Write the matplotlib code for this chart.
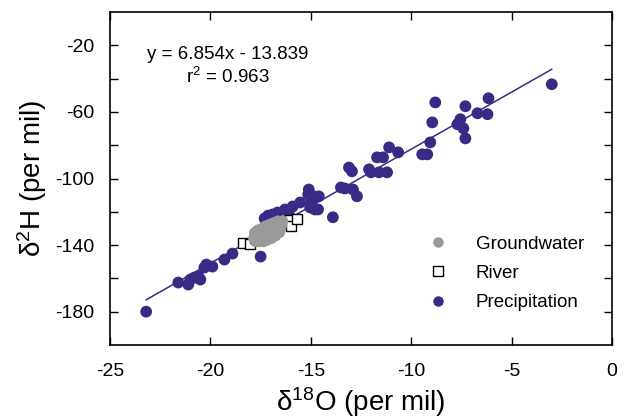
import matplotlib as mpl
mpl.use("Agg")
import matplotlib.pyplot as plt
from matplotlib.lines import Line2D
import numpy as np

# ---- data ------------------------------------------------------------------
precip_x = [-23.2, -21.6, -21.1, -21.0, -20.8, -20.5, -20.6, -20.2, -20.3, -19.9,
            -19.3, -18.9, -17.5, -17.3, -17.13, -16.9, -16.65, -16.28, -16.1, -15.9,
            -15.53, -15.13, -14.79, -15.03, -14.64, -15.1, -15.0, -14.8, -14.6, -14.85,
            -13.9, -13.5, -13.3, -12.9, -13.1, -12.95, -12.7, -12.1, -12.0, -11.6,
            -11.2, -11.7, -11.4, -11.1, -10.65, -9.45, -9.2, -9.05, -8.95, -8.8,
            -7.3, -6.15, -6.7, -6.2, -7.7, -7.55, -7.4, -7.3, -3.0]
precip_y = [-180.0, -162.5, -163.7, -160.7, -159.5, -160.7, -158.9, -151.7, -153.5, -152.9,
            -148.7, -145.1, -146.9, -124.0, -122.3, -121.6, -120.4, -118.6, -120.4, -116.8,
            -114.4, -109.6, -111.4, -117.4, -118.6, -106.6, -114.4, -118.6, -110.7, -110.7,
            -123.3, -105.4, -106.0, -106.6, -93.4, -95.7, -110.7, -94.5, -96.3, -96.3,
            -96.3, -87.3, -87.3, -81.3, -84.3, -85.5, -85.5, -78.3, -66.3, -54.3,
            -56.6, -51.8, -60.8, -61.4, -67.4, -64.4, -69.9, -75.9, -43.4]

river_x = [-18.4, -18.05, -17.8, -16.6, -16.43, -16.03, -15.98, -15.68]
river_y = [-138.5, -139.5, -136.0, -128.3, -125.9, -125.2, -128.3, -124.6]

ground_x = [-17.85, -17.8, -17.75, -17.7, -17.65, -17.6, -17.55, -17.5, -17.45, -17.4,
            -17.35, -17.3, -17.25, -17.2, -17.15, -17.1, -17.05, -17.0, -16.95, -16.9,
            -16.85, -16.8, -16.75, -16.7, -16.65, -16.6, -16.55, -16.5, -16.45, -16.4,
            -17.6, -17.3, -17.0, -16.7, -17.45, -17.15, -16.85, -17.75, -16.55]
ground_y = [-136.0, -132.5, -138.0, -134.0, -131.0, -136.5, -138.0, -132.5, -130.0, -135.5,
            -138.0, -131.5, -128.5, -134.5, -137.0, -130.0, -127.5, -133.5, -136.0, -129.0,
            -126.5, -132.0, -134.5, -127.5, -125.5, -130.5, -132.5, -126.5, -128.5, -125.5,
            -134.0, -133.0, -130.5, -130.5, -133.0, -132.5, -129.5, -135.5, -128.0]

fit_slope = 6.854
fit_icept = -13.839
fit_r2 = 0.963
fit_range = [-23.2, -3.0]

PURPLE = "#3b2a85"
GREY = "#9a9a9a"

plt.rcParams["font.family"] = ["Liberation Sans", "DejaVu Sans"]
plt.rcParams["mathtext.fontset"] = "custom"
plt.rcParams["mathtext.rm"] = "Liberation Sans"
plt.rcParams["mathtext.default"] = "rm"
plt.rcParams["axes.unicode_minus"] = False

fig = plt.figure(figsize=(6.3, 4.2), dpi=100)
ax = fig.add_axes([0.1746, 0.1786, 0.7968, 0.7928])

ax.scatter(precip_x, precip_y, s=72, color=PURPLE, edgecolor="none", zorder=2)
fx = np.array(fit_range)
ax.plot(fx, fit_slope * fx + fit_icept, color=PURPLE, lw=1.1, zorder=3)
ax.scatter(river_x, river_y, s=45, marker="s", facecolor="white", edgecolor="black",
           linewidth=1.0, zorder=4)
ax.scatter(ground_x, ground_y, s=62, color=GREY, edgecolor="none", zorder=5)

ax.set_xlim(-25, 0)
ax.set_ylim(-200, 0)
ax.set_xticks([-25, -20, -15, -10, -5, 0])
ax.set_yticks([-180, -140, -100, -60, -20])
ax.set_yticks([-160, -120, -80, -40], minor=True)
ax.tick_params(which="both", direction="in", top=True, right=True, length=6,
               width=1.0, labelsize=14)
ax.tick_params(axis="x", pad=13)
ax.tick_params(axis="y", pad=11)
for sp in ax.spines.values():
    sp.set_linewidth(1.2)

ax.set_xlabel("δ$^{18}$O (per mil)", fontsize=20, labelpad=4)
ax.set_ylabel("δ$^{2}$H (per mil)", fontsize=20, labelpad=5)

ax.text(0.235, 0.871, f"y = {fit_slope:.3f}x - {abs(fit_icept):.3f}", transform=ax.transAxes,
        ha="center", va="center", fontsize=13.5)
ax.text(0.235, 0.805, f"r$^{{2}}$ = {fit_r2:.3f}", transform=ax.transAxes,
        ha="center", va="center", fontsize=13.5)

handles = [
    Line2D([], [], ls="none", marker="o", ms=7.5, color=GREY, mec="none"),
    Line2D([], [], ls="none", marker="s", ms=7, mfc="white", mec="black", mew=1.0),
    Line2D([], [], ls="none", marker="o", ms=7.5, color=PURPLE, mec="none"),
]
ax.legend(handles, ["Groundwater", "River", "Precipitation"], loc="center left",
          bbox_to_anchor=(0.62, 0.215), borderaxespad=0, frameon=False, fontsize=13.5,
          handlelength=1.0, handletextpad=1.5, labelspacing=0.65)

fig.savefig("out.png", dpi=100)
